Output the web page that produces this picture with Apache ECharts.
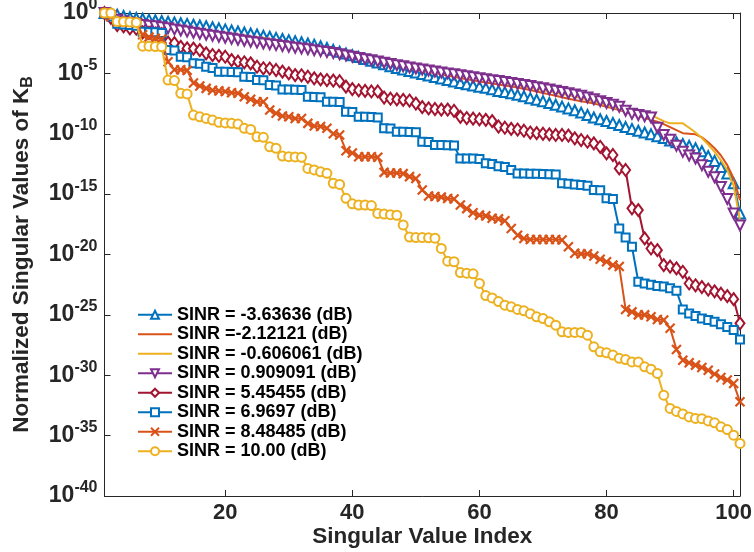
<!DOCTYPE html>
<html><head><meta charset="utf-8">
<script src="https://cdn.jsdelivr.net/npm/echarts@6/dist/echarts.min.js"></script>
<style>html,body{margin:0;padding:0;background:#fff}#c{width:754px;height:552px}</style>
</head><body><div id="c"></div>
<script>
// x positions: singular value index 1..101
const singularValueIndex = Array.from({length: 101}, (_, k) => k + 1);
const xTickValues = [20, 40, 60, 80, 100];
const yTickExponents = [-40, -35, -30, -25, -20, -15, -10, -5, 0];

const seriesNames = [
  'SINR = -3.63636 (dB)',
  'SINR =-2.12121 (dB)',
  'SINR = -0.606061 (dB)',
  'SINR = 0.909091 (dB)',
  'SINR = 5.45455 (dB)',
  'SINR = 6.9697 (dB)',
  'SINR = 8.48485 (dB)',
  'SINR = 10.00 (dB)'
];

// values, stored as log10 of the normalized singular value
const sinrM3p63Log10 = [0,-0.05,-0.15,-0.25,-0.35,-0.42,-0.48,-0.55,-0.6,-0.66,
 -0.72,-0.78,-0.85,-0.9,-0.97,-1.04,-1.1,-1.18,-1.27,-1.36,
 -1.45,-1.53,-1.62,-1.7,-1.78,-1.88,-1.97,-2.06,-2.15,-2.25,
 -2.33,-2.42,-2.52,-2.62,-2.75,-2.9,-3.05,-3.2,-3.35,-3.5,
 -3.65,-3.8,-3.95,-4.1,-4.25,-4.4,-4.55,-4.68,-4.8,-4.93,
 -5.05,-5.18,-5.3,-5.42,-5.55,-5.67,-5.8,-5.9,-6.0,-6.1,
 -6.2,-6.32,-6.45,-6.55,-6.65,-6.78,-6.9,-7.05,-7.18,-7.3,
 -7.45,-7.6,-7.75,-7.9,-8.05,-8.25,-8.45,-8.65,-8.8,-8.95,
 -9.1,-9.28,-9.45,-9.6,-9.75,-9.9,-10.05,-10.2,-10.35,-10.55,
 -10.7,-10.85,-11.0,-11.2,-11.45,-11.85,-12.25,-12.75,-13.3,-14.1,
 -16.6];
const sinrM2p12Log10 = [0,-0.1,-0.22,-0.35,-0.47,-0.58,-0.68,-0.78,-0.88,-0.98,
 -1.08,-1.18,-1.27,-1.32,-1.37,-1.42,-1.47,-1.53,-1.58,-1.64,
 -1.7,-1.78,-1.86,-1.94,-2.02,-2.1,-2.2,-2.3,-2.4,-2.5,
 -2.6,-2.7,-2.8,-2.9,-3.0,-3.12,-3.25,-3.35,-3.45,-3.55,
 -3.65,-3.75,-3.85,-3.95,-4.05,-4.15,-4.25,-4.4,-4.55,-4.68,
 -4.78,-4.88,-4.98,-5.08,-5.18,-5.28,-5.38,-5.48,-5.58,-5.68,
 -5.76,-5.84,-5.92,-6.0,-6.08,-6.18,-6.28,-6.38,-6.5,-6.62,
 -6.74,-6.86,-6.98,-7.1,-7.2,-7.3,-7.4,-7.5,-7.62,-7.76,
 -7.9,-8.04,-8.2,-8.36,-8.52,-8.7,-8.85,-9.0,-9.2,-9.45,
 -9.7,-9.95,-10.0,-10.05,-10.3,-10.7,-11.2,-11.8,-12.6,-13.7,
 -15.5];
const sinrM0p61Log10 = [0,-0.1,-0.25,-0.38,-0.5,-0.6,-0.7,-0.8,-0.9,-1.0,
 -1.1,-1.2,-1.3,-1.38,-1.46,-1.54,-1.62,-1.7,-1.76,-1.82,
 -1.86,-1.9,-1.94,-1.98,-2.02,-2.06,-2.18,-2.3,-2.45,-2.58,
 -2.66,-2.74,-2.82,-2.9,-2.98,-3.08,-3.2,-3.3,-3.4,-3.5,
 -3.6,-3.7,-3.8,-3.9,-4.0,-4.1,-4.2,-4.32,-4.45,-4.58,
 -4.68,-4.78,-4.88,-4.98,-5.06,-5.14,-5.22,-5.3,-5.38,-5.46,
 -5.54,-5.62,-5.7,-5.8,-5.9,-6.0,-6.1,-6.2,-6.3,-6.4,
 -6.5,-6.6,-6.7,-6.8,-6.92,-7.05,-7.2,-7.35,-7.5,-7.65,
 -7.8,-7.95,-8.15,-8.2,-8.3,-8.38,-8.45,-8.7,-8.95,-9.14,
 -9.14,-9.14,-9.5,-9.9,-10.35,-10.9,-11.5,-12.2,-13.0,-14.3,
 -17.15];
const sinrP0p91Log10 = [0,-0.25,-0.55,-0.7,-0.8,-0.9,-1.0,-1.05,-1.1,-1.18,
 -1.27,-1.36,-1.45,-1.54,-1.63,-1.72,-1.8,-1.88,-1.97,-2.05,
 -2.14,-2.22,-2.3,-2.38,-2.45,-2.52,-2.59,-2.66,-2.73,-2.8,
 -2.87,-2.94,-3.0,-3.08,-3.16,-3.24,-3.32,-3.42,-3.52,-3.62,
 -3.72,-3.82,-3.92,-4.02,-4.12,-4.22,-4.32,-4.42,-4.52,-4.6,
 -4.68,-4.76,-4.84,-4.92,-5.0,-5.08,-5.16,-5.24,-5.32,-5.4,
 -5.48,-5.56,-5.64,-5.72,-5.8,-5.88,-5.96,-6.04,-6.14,-6.24,
 -6.34,-6.44,-6.54,-6.64,-6.74,-6.86,-7.0,-7.15,-7.3,-7.45,
 -7.6,-7.76,-8.1,-8.35,-8.45,-8.55,-8.65,-9.5,-10.1,-10.5,
 -11.0,-11.5,-11.8,-12.05,-12.6,-13.15,-13.6,-14.4,-15.4,-16.6,
 -17.6];
const sinrP5p45Log10 = [0,-0.4,-1.0,-1.1,-1.27,-1.3,-1.6,-1.65,-1.7,-1.75,
 -2.45,-2.5,-2.8,-2.93,-2.95,-3.07,-3.34,-3.48,-3.55,-3.62,
 -3.9,-4.03,-4.08,-4.17,-4.45,-4.58,-4.6,-4.72,-4.86,-5.0,
 -5.14,-5.16,-5.28,-5.41,-5.5,-5.55,-5.6,-5.65,-6.1,-6.3,
 -6.4,-6.45,-6.5,-6.5,-7.0,-7.1,-7.15,-7.2,-7.25,-7.5,
 -7.8,-7.9,-7.95,-8.0,-8.0,-8.1,-8.6,-8.7,-8.75,-8.8,
 -8.85,-8.95,-9.4,-9.5,-9.6,-9.65,-9.75,-9.9,-9.95,-10.0,
 -10.05,-10.1,-10.1,-10.15,-10.38,-10.52,-10.66,-10.8,-11.08,-11.62,
 -11.76,-12.87,-13.0,-16.18,-16.32,-18.67,-19.5,-19.64,-20.88,-21.0,
 -21.15,-21.43,-22.4,-22.55,-22.7,-22.9,-23.05,-23.25,-23.45,-23.7,
 -25.7];
const sinrP6p97Log10 = [0,-0.3,-0.9,-0.95,-1.0,-1.05,-1.55,-1.6,-1.6,-1.65,
 -3.07,-3.1,-3.62,-3.67,-4.17,-4.2,-4.45,-4.55,-4.86,-4.86,
 -4.88,-4.9,-5.28,-5.3,-5.55,-5.57,-5.97,-6.0,-6.33,-6.33,
 -6.35,-6.38,-6.93,-6.95,-6.97,-7.35,-7.35,-7.38,-8.18,-8.2,
 -8.6,-8.6,-8.62,-8.65,-9.55,-9.57,-9.83,-9.83,-9.85,-9.88,
 -10.66,-10.68,-10.94,-10.94,-10.96,-10.98,-12.04,-12.04,-12.06,-12.1,
 -12.45,-12.5,-12.7,-12.76,-13.0,-13.3,-13.3,-13.32,-13.32,-13.34,
 -13.36,-13.38,-14.1,-14.15,-14.2,-14.25,-14.3,-14.66,-14.68,-15.35,
 -15.4,-17.84,-18.6,-19.36,-22.26,-22.4,-22.5,-22.6,-22.65,-22.8,
 -23.0,-24.55,-24.88,-25.1,-25.3,-25.43,-25.57,-25.77,-26.0,-26.26,
 -27.03];
const sinrP8p48Log10 = [0,-0.3,-0.75,-0.75,-0.78,-0.8,-1.8,-2.0,-2.1,-2.15,
 -4.03,-4.7,-4.7,-4.75,-5.8,-6.05,-6.24,-6.4,-6.45,-6.5,
 -6.6,-6.65,-6.93,-7.15,-7.35,-7.35,-8.04,-8.3,-8.53,-8.6,
 -8.73,-8.73,-9.14,-9.36,-9.4,-9.55,-10.0,-10.1,-11.4,-11.6,
 -11.9,-11.9,-11.9,-11.95,-13.2,-13.25,-13.25,-13.3,-13.55,-13.7,
 -14.66,-15.16,-15.2,-15.25,-15.36,-15.4,-15.9,-16.2,-16.55,-16.74,
 -16.8,-17.0,-17.05,-17.2,-17.84,-18.4,-18.67,-18.75,-18.75,-18.75,
 -18.75,-18.75,-18.8,-19.36,-19.9,-19.95,-19.95,-20.13,-20.4,-20.6,
 -20.88,-21.0,-24.55,-24.75,-25.0,-25.0,-25.16,-25.38,-25.43,-26.1,
 -27.86,-28.75,-28.97,-29.16,-29.36,-29.58,-29.9,-30.19,-30.4,-30.68,
 -32.2];
const sinrP10Log10 = [0,0,-0.7,-0.72,-0.75,-0.78,-2.75,-2.75,-2.78,-2.8,
 -5.55,-5.6,-6.65,-6.7,-8.45,-8.6,-8.73,-8.87,-9.05,-9.1,
 -9.14,-9.2,-9.55,-9.64,-10.25,-10.3,-11.08,-11.2,-11.85,-11.9,
 -11.92,-11.95,-12.87,-13.0,-13.15,-13.28,-14.1,-14.2,-15.35,-15.8,
 -15.9,-15.9,-15.95,-16.6,-16.65,-16.7,-16.75,-17.55,-18.55,-18.6,
 -18.6,-18.62,-18.65,-19.5,-20.55,-20.6,-21.5,-21.55,-21.6,-22.4,
 -23.4,-23.6,-23.9,-24.2,-24.33,-24.55,-24.66,-24.9,-25.16,-25.3,
 -25.57,-25.85,-26.4,-26.45,-26.45,-26.45,-26.68,-27.65,-28.06,-28.14,
 -28.33,-28.6,-28.7,-28.9,-28.9,-29.3,-29.5,-29.85,-31.65,-32.75,
 -33.0,-33.2,-33.45,-33.58,-33.6,-33.78,-33.94,-34.27,-34.5,-34.96,
 -35.65];

const allLog10 = [sinrM3p63Log10, sinrM2p12Log10, sinrM0p61Log10, sinrP0p91Log10,
                  sinrP5p45Log10, sinrP6p97Log10, sinrP8p48Log10, sinrP10Log10];

const colors = ['#0072BD', '#D95319', '#EDB120', '#7E2F8E', '#A2142F', '#0072BD', '#D95319', '#EDB120'];
const xPath = 'path://M0,0L10,10M10,0L0,10';
const markerCfg = [
  {symbol: 'emptyTriangle', size: 10, rotate: 0},
  {symbol: 'none'},
  {symbol: 'none'},
  {symbol: 'emptyTriangle', size: 10, rotate: 180},
  {symbol: 'emptyDiamond', size: [9, 12], rotate: 0},
  {symbol: 'emptyRect', size: 8, rotate: 0},
  {symbol: xPath, size: 9, rotate: 0},
  {symbol: 'emptyCircle', size: 9, rotate: 0}
];

const FONT = '"Liberation Sans", Arial, Helvetica, sans-serif';
const TXT = '#262626';

const series = allLog10.map((arr, s) => {
  const m = markerCfg[s];
  const o = {
    name: seriesNames[s],
    type: 'line',
    xAxisIndex: 0, yAxisIndex: 0,
    data: singularValueIndex.map((x, k) => [x, Math.pow(10, arr[k])]),
    symbol: m.symbol,
    showSymbol: m.symbol !== 'none',
    symbolSize: m.size || 0,
    symbolRotate: m.rotate || 0,
    lineStyle: {color: colors[s], width: 2},
    itemStyle: {color: colors[s], borderColor: colors[s], borderWidth: 2},
    emphasis: {disabled: true},
    silent: true,
    z: 2 + s
  };
  if (s === 6) o.itemStyle = {color: 'rgba(0,0,0,0)', borderColor: colors[s], borderWidth: 2.2};
  return o;
});

const legendData = seriesNames.map((n, s) =>
  markerCfg[s].symbol === 'none' ? {name: n, itemStyle: {opacity: 0}} : {name: n});

const yTickValues = yTickExponents.map(e => Math.pow(10, e));
const yLabelFmt = v => '{b|10}{s|' + Math.round(Math.log10(v)) + '}';

const chart = echarts.init(document.getElementById('c'), null, {renderer: 'canvas'});
chart.setOption({
  animation: false,
  backgroundColor: '#ffffff',
  textStyle: {fontFamily: FONT},
  color: colors,
  grid: {left: 104.5, right: 14, top: 13, bottom: 56, containLabel: false, outerBoundsMode: 'none'},
  legend: {
    orient: 'vertical', left: 137, top: 305, padding: 0,
    itemWidth: 34, itemHeight: 10, itemGap: 0,
    textStyle: {fontSize: 18, fontWeight: 'bold', color: '#000', lineHeight: 19.5, fontFamily: FONT},
    data: legendData, selectedMode: false
  },
  xAxis: [{
    type: 'value', min: 1, max: 101, position: 'bottom',
    axisLine: {show: true, onZero: false, lineStyle: {color: TXT, width: 1}},
    axisTick: {show: true, inside: true, length: 6, customValues: xTickValues, lineStyle: {color: TXT}},
    axisLabel: {customValues: xTickValues, fontSize: 22, fontWeight: 'bold', color: TXT, margin: 6, fontFamily: FONT},
    splitLine: {show: false},
    name: 'Singular Value Index', nameLocation: 'middle', nameGap: 29, nameMoveOverlap: false,
    nameTextStyle: {fontSize: 22.5, fontWeight: 'bold', color: TXT, fontFamily: FONT}
  }, {
    type: 'value', min: 1, max: 101, position: 'top',
    axisLine: {show: true, onZero: false, lineStyle: {color: TXT, width: 1}},
    axisTick: {show: true, inside: true, length: 6, customValues: xTickValues, lineStyle: {color: TXT}},
    axisLabel: {show: false}, splitLine: {show: false}
  }],
  yAxis: [{
    type: 'log', logBase: 10, min: 1e-40, max: 1, position: 'left',
    axisLine: {show: true, onZero: false, lineStyle: {color: TXT, width: 1}},
    axisTick: {show: true, inside: true, length: 6, customValues: yTickValues, lineStyle: {color: TXT}},
    minorTick: {show: false},
    axisLabel: {
      customValues: yTickValues,
      formatter: yLabelFmt, margin: 7, color: TXT, showMinLabel: true, showMaxLabel: true, hideOverlap: false,
      rich: {
        b: {fontSize: 23, fontWeight: 'bold', color: TXT, lineHeight: 32, fontFamily: FONT},
        s: {fontSize: 16, fontWeight: 'bold', color: TXT, verticalAlign: 'top', lineHeight: 16, fontFamily: FONT}
      }
    },
    splitLine: {show: false},
    name: '{a|Normalized Singular Values of K}{b|B}', nameLocation: 'middle', nameGap: 69, nameMoveOverlap: false,
    nameTextStyle: {
      color: TXT,
      rich: {
        a: {fontSize: 22.5, fontWeight: 'bold', color: TXT, lineHeight: 28, fontFamily: FONT},
        b: {fontSize: 16, fontWeight: 'bold', color: TXT, verticalAlign: 'bottom', lineHeight: 16, fontFamily: FONT}
      }
    }
  }, {
    type: 'log', logBase: 10, min: 1e-40, max: 1, position: 'right',
    axisLine: {show: true, onZero: false, lineStyle: {color: TXT, width: 1}},
    axisTick: {show: true, inside: true, length: 6, customValues: yTickValues, lineStyle: {color: TXT}},
    axisLabel: {show: false}, splitLine: {show: false}
  }],
  series: series
});
</script>
</body></html>
